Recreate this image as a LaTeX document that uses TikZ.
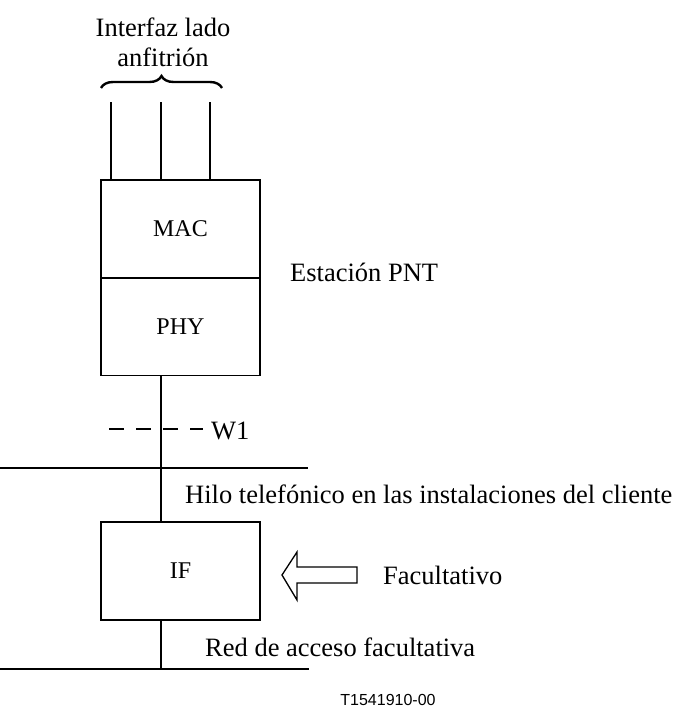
\documentclass[tikz,border=0pt]{standalone}
\usepackage{fontspec}
\setmainfont{Liberation Serif}
\newfontfamily\arialf{Liberation Sans}
\usetikzlibrary{decorations.pathreplacing,calc}
\tikzset{
  blk/.style={draw,line width=1.3pt,minimum width=159pt,minimum height=98pt,inner sep=0pt,font=\fontsize{24}{28}\selectfont},
  lbl/.style={inner sep=0pt,font=\fontsize{26.5}{30}\selectfont},
  ln/.style={line width=1.3pt},
}
\begin{document}
\begin{tikzpicture}[x=1pt,y=-1pt]
\useasboundingbox (0,0) rectangle (677,709);
% blocks
\node[blk] (mac) at (180.5,229) {MAC};
\node[blk] (phy) at (180.5,326.5) {PHY};
\node[blk] (if) at (180.5,571) {IF};
% three host lines
\coordinate (h1) at (111,102);
\coordinate (h2) at (161,102);
\coordinate (h3) at (210,102);
\draw[ln] (h1) -- (h1 |- mac.north);
\draw[ln] (h2) -- (h2 |- mac.north);
\draw[ln] (h3) -- (h3 |- mac.north);
% brace
\coordinate (bl) at (101,88);
\coordinate (br) at (222,88);
\draw[line width=2.4pt,decorate,decoration={brace,amplitude=12pt}] (bl) -- (br);
\node[lbl,align=center] (host) at (163,42) {Interfaz lado\\anfitrión};
% station label
\node[lbl,anchor=west] (est) at (290,272) {Estación PNT};
% wires
\coordinate (w1a) at (0,468);
\coordinate (w1b) at (308,468);
\coordinate (w2a) at (0,669);
\coordinate (w2b) at (309,669);
\draw[ln] (w1a) -- (w1b);
\draw[ln] (w2a) -- (w2b);
\draw[ln] (phy.south -| h2) -- (h2 |- w1a);
\draw[ln] (h2 |- w1a) -- (if.north -| h2);
\draw[ln] (if.south -| h2) -- (h2 |- w2a);
% W1 reference point
\coordinate (d1) at (109,429);
\coordinate (d2) at (203,429);
\draw[ln,dash pattern=on 15pt off 12pt] (d1) -- (d2);
\node[lbl,anchor=west] (w1) at (211,431) {W1};
% labels
\node[lbl,anchor=west] (hilo) at (185,494) {Hilo telefónico en las instalaciones del cliente};
\node[lbl,anchor=west] (red) at (205,647) {Red de acceso facultativa};
\node[lbl,anchor=west] (fac) at (383,575) {Facultativo};
% hollow arrow
\coordinate (at) at (282,575);
\draw[line width=1.3pt,line join=miter] (at) -- (297,552) -- (297,567) -- (357,567) -- (357,583) -- (297,583) -- (297,600) -- cycle;
\node[inner sep=0pt,font=\arialf\fontsize{16}{18}\selectfont] (tag) at (388,700) {T1541910-00};
\end{tikzpicture}
\end{document}
